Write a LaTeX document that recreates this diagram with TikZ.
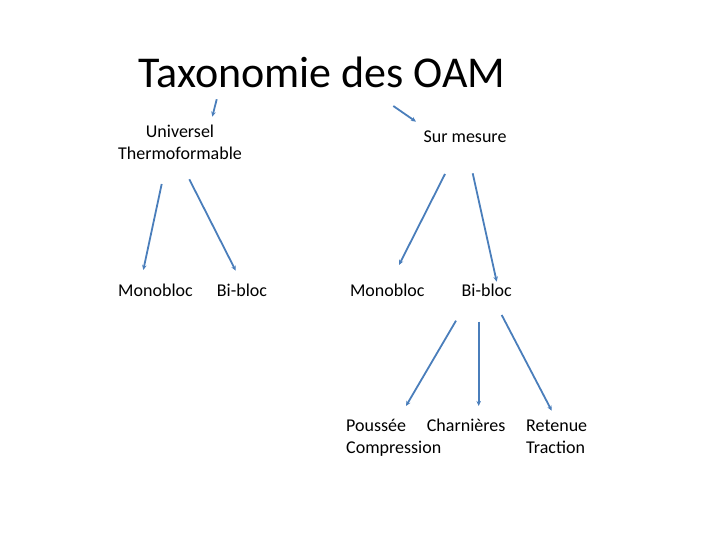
\documentclass[tikz,border=0pt]{standalone}
\usepackage{fontspec}
\setmainfont{Carlito}
\usetikzlibrary{arrows.meta}
\definecolor{linkblue}{HTML}{4A7EBB}
\begin{document}
\begin{tikzpicture}[x=1pt,y=-1pt,
  lbl/.style={inner sep=0pt,font=\fontsize{18}{21.5}\selectfont},
  link/.style={draw=linkblue,line width=1.8pt,-{Stealth[length=5pt,width=4.5pt]}}]
\useasboundingbox (0,0) rectangle (720,540);
\node[inner sep=0pt,anchor=base,font=\fontsize{44}{52}\selectfont] (title) at (322,88) {Taxonomie des OAM};
\node[lbl,anchor=base,align=center] (univ) at (180,159.3) {Universel\\Thermoformable};
\node[lbl,anchor=base] (sur) at (465,142.7) {Sur mesure};
\node[lbl,anchor=base] (mono1) at (155.5,296) {Monobloc};
\node[lbl,anchor=base] (bi1) at (242,296) {Bi-bloc};
\node[lbl,anchor=base] (mono2) at (387.3,296) {Monobloc};
\node[lbl,anchor=base] (bi2) at (486.7,296) {Bi-bloc};
\node[lbl,anchor=base west,align=left] (pous) at (346,453) {Poussée\\Compression};
\node[lbl,anchor=base west] (charn) at (426.7,431.5) {Charnières};
\node[lbl,anchor=base west,align=left] (ret) at (526,453) {Retenue\\Traction};
% connector ends
\coordinate (t1) at (216.7,99.3);  \coordinate (u1) at (212.3,116.7);
\coordinate (t2) at (393.3,106);   \coordinate (s1) at (416,121.7);
\coordinate (u2) at (161.7,184);   \coordinate (m1) at (143.3,270);
\coordinate (u3) at (189.3,179.3); \coordinate (b1) at (235.7,270.7);
\coordinate (s2) at (445,174);     \coordinate (m2) at (399,265);
\coordinate (s3) at (472.7,173.3); \coordinate (b2) at (496.7,281.7);
\coordinate (p1) at (456,320.7);   \coordinate (p2) at (406,406);
\coordinate (c1) at (478.7,321.7); \coordinate (c2) at (478.7,406);
\coordinate (r1) at (501.7,315);   \coordinate (r2) at (551.7,410.7);
\draw[link] (t1) -- (u1);
\draw[link] (t2) -- (s1);
\draw[link] (u2) -- (m1);
\draw[link] (u3) -- (b1);
\draw[link] (s2) -- (m2);
\draw[link] (s3) -- (b2);
\draw[link] (p1) -- (p2);
\draw[link] (c1) -- (c2);
\draw[link] (r1) -- (r2);
\end{tikzpicture}
\end{document}
